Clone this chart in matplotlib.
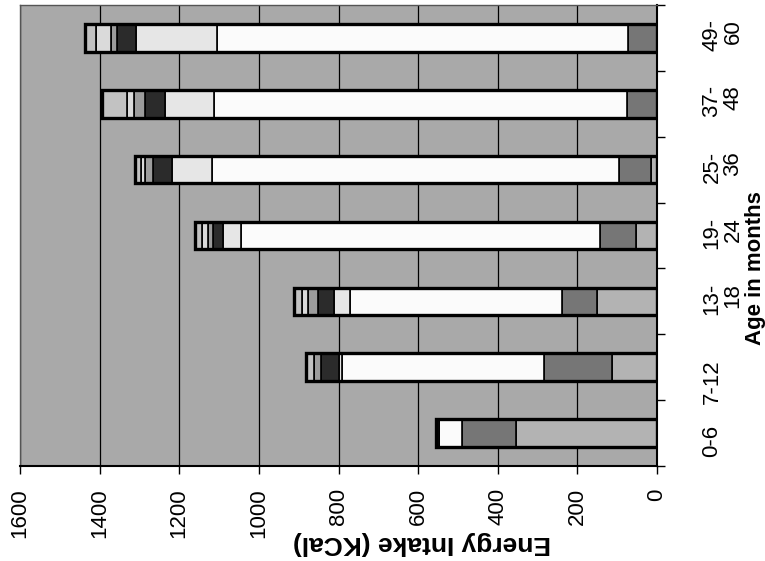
import matplotlib
matplotlib.use("Agg")
import matplotlib.pyplot as plt
import numpy as np

# Age groups (bottom to top) and energy intake per food group, kcal
ages = ["0-6", "7-12", "13-\n18", "19-\n24", "25-\n36", "37-\n48", "49-\n60"]
group_1 = [353, 114, 151, 53, 16, 0, 0]
group_2 = [137, 171, 88, 89, 80, 75, 74]
group_3 = [57, 505, 532, 903, 1022, 1037, 1030]
group_4 = [0, 8, 41, 45, 100, 125, 204]
group_5 = [8, 45, 40, 25, 47, 49, 48]
group_6 = [0, 18, 24, 14, 20, 28, 16]
group_7 = [0, 0, 15, 15, 11, 16, 37]
group_8 = [0, 21, 21, 16, 14, 64, 28]
value_ticks = [0, 200, 400, 600, 800, 1000, 1200, 1400, 1600]

series = [group_1, group_2, group_3, group_4, group_5, group_6, group_7, group_8]
fills = ["#b3b3b3", "#767676", "#fbfbfb", "#e6e6e6",
         "#2b2b2b", "#9c9c9c", "#dadada", "#c2c2c2"]

FONT = "Liberation Sans"
W, H = 765, 561
fig = plt.figure(figsize=(W / 100, H / 100), dpi=100)
fig.patch.set_facecolor("white")
ax = fig.add_axes([20 / W, 1 - 466 / H, 637 / W, 461 / H])
ax.set_facecolor("#a9a9a9")

pos = np.arange(len(ages))
bar_h = 0.42
left = np.zeros(len(ages))
for vals, col in zip(series, fills):
    v = np.array(vals, dtype=float)
    ax.barh(pos, v, left=left, height=bar_h, color=col,
            edgecolor="black", linewidth=1.2, zorder=3)
    left += v
# heavy outline round each stacked bar
ax.barh(pos, left, height=bar_h, fill=False, edgecolor="black",
        linewidth=2.4, zorder=4)

ax.set_xlim(1600, 0)
ax.set_ylim(-0.5, len(ages) - 0.5)

ax.set_xticks(value_ticks)
ax.set_xticklabels([str(t) for t in value_ticks], rotation=90,
                   fontsize=16, family=FONT)
ax.xaxis.grid(True, color="black", linewidth=0.9, zorder=1)
ax.set_axisbelow(True)
ax.tick_params(axis="x", direction="out", length=6, width=1, pad=10,
               colors="black")

ax.yaxis.tick_right()
ax.set_yticks(pos)
ax.set_yticklabels(ages, rotation=90, fontsize=16, family=FONT)
for lbl in ax.get_yticklabels():
    lbl.set_multialignment("right")
    lbl.set_linespacing(1.0)
ax.set_yticks(np.arange(-0.5, len(ages), 1.0), minor=True)
ax.tick_params(axis="y", which="major", length=0, pad=32)
ax.tick_params(axis="y", which="minor", direction="out", length=6,
               width=1, right=True, left=False)

for side in ("bottom", "right"):
    ax.spines[side].set_color("black")
    ax.spines[side].set_linewidth(1.5)
for side in ("top", "left"):
    ax.spines[side].set_color("#555555")
    ax.spines[side].set_linewidth(1.0)

fig.text(422 / W, 1 - 543 / H, "Energy Intake (KCal)", rotation=180,
         ha="center", va="center", fontsize=19, fontweight="bold",
         family=FONT)
fig.text(755 / W, 1 - 268 / H, "Age in months", rotation=90,
         ha="center", va="center", fontsize=16, fontweight="bold",
         family=FONT)

fig.savefig("out.png", dpi=100)
